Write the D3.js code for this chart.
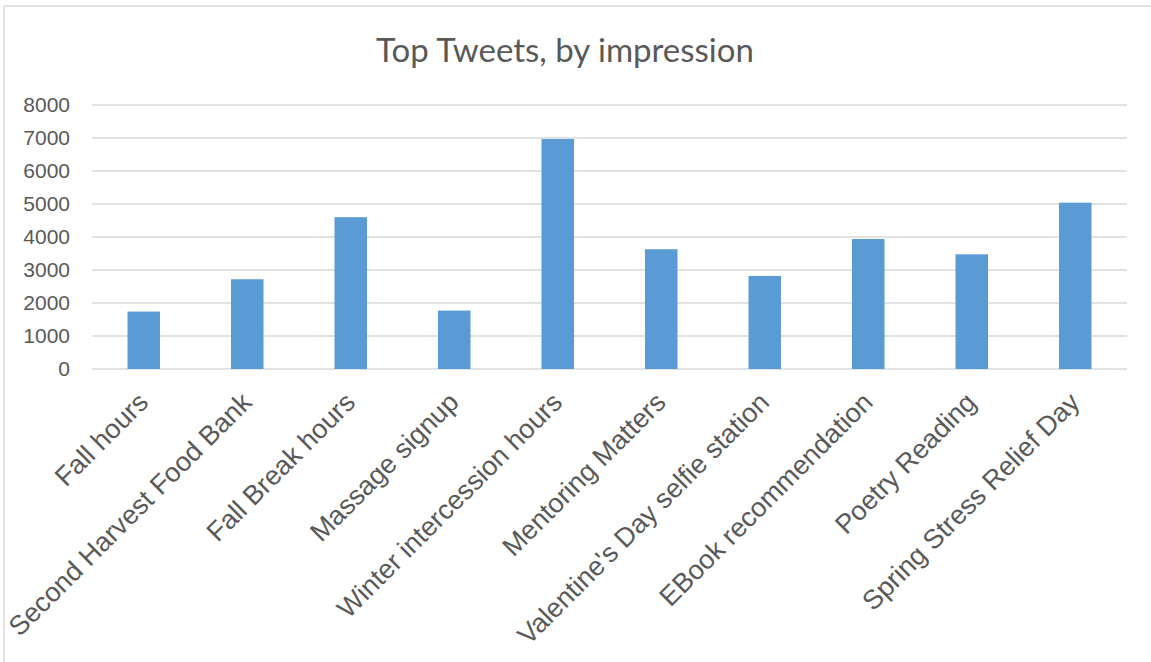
<!DOCTYPE html>
<html>
<head>
<meta charset="utf-8">
<script src="https://cdn.jsdelivr.net/npm/d3@7"></script>
<style>
  body { margin: 0; background: #fff; }
  .tick-label { fill: #595959; font-family: "Liberation Sans", Arial, sans-serif; }
</style>
</head>
<body>
<div class="chart-wrapper"></div>
<script>
// tweet names and their impressions
var categories = ["Fall hours", "Second Harvest Food Bank", "Fall Break hours", "Massage signup",
  "Winter intercession hours", "Mentoring Matters", "Valentine's Day selfie station",
  "EBook recommendation", "Poetry Reading", "Spring Stress Relief Day"];
var impressions = [1740, 2720, 4600, 1770, 6970, 3630, 2820, 3940, 3475, 5040];
var yTicks = [0, 1000, 2000, 3000, 4000, 5000, 6000, 7000, 8000];
var title = "Top Tweets, by impression";

var W = 1151, H = 662;
var margin = { top: 105, right: 24, bottom: 293, left: 92 },
  width = W - margin.left - margin.right,
  height = H - margin.top - margin.bottom;

var svg = d3.select('.chart-wrapper').append("svg")
  .attr("width", W)
  .attr("height", H);

// chart frame (left + top edges visible)
svg.append("line").attr("x1", 4).attr("x2", 4).attr("y1", 6).attr("y2", H)
  .attr("stroke", "#d9d9d9").attr("stroke-width", 1.5);
svg.append("line").attr("x1", 4).attr("x2", W).attr("y1", 6).attr("y2", 6)
  .attr("stroke", "#d9d9d9").attr("stroke-width", 1.5);

var x = d3.scaleBand()
  .domain(categories)
  .range([0, width])
  .paddingInner(0.686)
  .paddingOuter(0.343);

var y = d3.scaleLinear()
  .domain([0, 8000])
  .range([height, 0]);

var g = svg.append("g")
  .attr("transform", "translate(" + margin.left + "," + margin.top + ")");

// gridlines
g.append("g")
  .selectAll("line")
  .data(yTicks)
  .enter().append("line")
  .attr("x1", 0)
  .attr("x2", width)
  .attr("y1", function(d){ return y(d); })
  .attr("y2", function(d){ return y(d); })
  .attr("stroke", "#d9d9d9")
  .attr("stroke-width", 1.3);

// y axis labels
var yAxis = g.append("g")
  .call(d3.axisLeft(y).tickValues(yTicks).tickFormat(d3.format("d")).tickSize(0).tickPadding(22));
yAxis.select(".domain").remove();
yAxis.selectAll("text")
  .attr("class", "tick-label")
  .style("font-size", "21px");

// bars
g.selectAll(".bar")
  .data(impressions)
  .enter().append("rect")
  .attr("class", "bar")
  .attr("x", function(d, i){ return x(categories[i]); })
  .attr("y", function(d){ return y(d); })
  .attr("width", x.bandwidth())
  .attr("height", function(d){ return height - y(d); })
  .attr("fill", "#5b9bd5");

// x axis labels, rotated
var xAxis = g.append("g")
  .attr("transform", "translate(0," + height + ")")
  .call(d3.axisBottom(x).tickSize(0).tickPadding(0));
xAxis.select(".domain").remove();
xAxis.selectAll("text")
  .attr("class", "tick-label")
  .style("font-size", "27px")
  .attr("text-anchor", "end")
  .attr("y", 0)
  .attr("dy", 0)
  .attr("transform", "translate(6,35) rotate(-45)");

svg.append("text")
  .attr("x", 565)
  .attr("y", 62)
  .attr("text-anchor", "middle")
  .style("font-family", "Lato, 'Open Sans', sans-serif")
  .style("font-size", "33px")
  .style("fill", "#595959")
  .text(title);
</script>
</body>
</html>
